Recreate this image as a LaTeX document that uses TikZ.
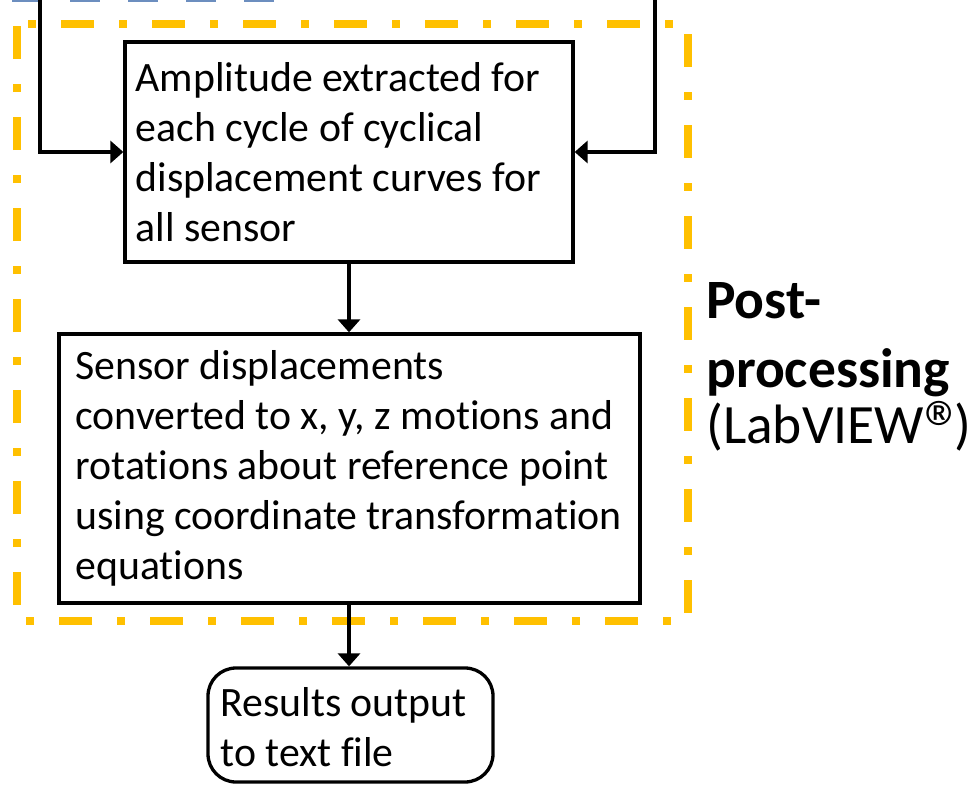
\documentclass[tikz,border=0pt]{standalone}
\usepackage{fontspec}
\setmainfont{Carlito}[Ligatures=NoCommon]
\usetikzlibrary{arrows.meta}
\definecolor{gold}{RGB}{255,192,0}
\definecolor{dashblue}{RGB}{108,142,191}
\tikzset{
  flowbox/.style={draw=black, line width=3.3pt, inner sep=0pt},
  flowtext/.style={anchor=west, align=left, inner sep=0pt, font=\fontsize{41.8}{50}\selectfont},
  flowarrow/.style={line width=3.3pt, -{Triangle[length=13pt,width=22pt]}},
  sidelabel/.style={anchor=base west, inner sep=0pt, font=\fontsize{55.5}{60}\selectfont}
}
\begin{document}
\begin{tikzpicture}[x=1pt,y=-1pt]
\useasboundingbox (0,0) rectangle (972,787);
\clip (0,0) rectangle (972,787);
\fill[white] (0,0) rectangle (972,787);
% blue dashed line at top (cut off)
\draw[dashblue, line width=5pt, dash pattern=on 30pt off 28pt] (12,-1) -- (280,-1);
% orange dash-dot frame
\draw[gold, line width=8pt, dash pattern=on 33pt off 25pt on 8pt off 25pt, dash phase=47pt]
  (17,24) -- (688,24) -- (688,621) -- (17,621) -- cycle;
% boxes
\node[flowbox, minimum width=448pt, minimum height=220pt] (b1) at (349,152) {};
\node[flowtext] (t1) at ([xshift=12pt]b1.west)
  {Amplitude extracted for\\each cycle of cyclical\\displacement curves for\\all sensor};
\node[flowbox, minimum width=581pt, minimum height=269pt] (b2) at (349.5,468.5) {};
\node[flowtext] (t2) at ([xshift=18pt]b2.west)
  {Sensor displacements\\converted to x, y, z motions and\\rotations about reference point\\using coordinate transformation\\equations};
\node[flowbox, rounded corners=28pt, minimum width=285pt, minimum height=114pt] (b3) at (350.5,725) {};
\node[flowtext] (t3) at ([xshift=14pt,yshift=-2pt]b3.west)
  {Results output\\to text file};
% incoming lines from above
\coordinate (lt) at (40,-10);
\coordinate (rt) at (655,-10);
\draw[flowarrow] (lt) |- (b1.west);
\draw[flowarrow] (rt) |- (b1.east);
\draw[flowarrow] (b1.south -| 349,0) -- (b2.north -| 349,0);
\draw[flowarrow] (b2.south -| 349,0) -- (b3.north -| 349,0);
% side label
\node[sidelabel] (l1) at (706,318) {\bfseries Post-};
\node[sidelabel] (l2) at (706,387) {\bfseries processing};
\node[sidelabel] (l3) at (706,443) {(LabVIEW\makebox[30pt][l]{\raisebox{-13pt}{\fontsize{80}{80}\selectfont ®}})};
\end{tikzpicture}
\end{document}
